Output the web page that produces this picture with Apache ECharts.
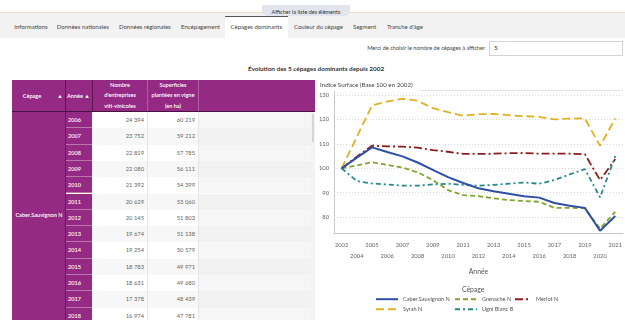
<!DOCTYPE html>
<html><head><meta charset="utf-8">
<script src="https://cdn.jsdelivr.net/npm/echarts/dist/echarts.min.js"></script>
<style>
body{margin:0;width:625px;height:320px;overflow:hidden;background:#fff;font-family:Lato,"Open Sans",sans-serif;position:relative;color:#444}
.a{position:absolute;white-space:nowrap}
.tab{position:absolute;top:22px;font-size:6px;color:#444;transform:translateX(-50%);line-height:10px}
.hd{position:absolute;color:#fff;font-size:5.6px;line-height:10.3px;text-align:center;font-weight:600}
.num{position:absolute;font-size:5.8px;color:#666;text-align:right;line-height:16px}
.yr{position:absolute;font-size:5.6px;color:#fff;line-height:15px;font-weight:600}
#chart{position:absolute;left:0;top:0;width:625px;height:320px}
</style></head>
<body>
<div class="a" style="left:0;top:12px;width:625px;height:25px;background:#f2f2f2;border-top:1px solid #f3dcc2"></div>
<div class="a" style="left:262px;top:5px;width:88px;height:11px;background:#e2e5ee;border-radius:0 0 6px 6px;font-size:5.5px;color:#333;text-align:center;line-height:14px;overflow:hidden">Afficher la liste des éléments</div>
<div class="a" style="left:225px;top:16px;width:63px;height:21px;background:#fff;border-top:1px solid #555"></div>
<div id="tabs"></div>
<div class="a" style="right:140px;top:44px;font-size:5.6px;color:#444">Merci de choisir le nombre de cépages à afficher</div>
<div class="a" style="left:489px;top:41px;width:132px;height:13px;border:1px solid #d4d4d4;background:#fff"></div>
<div class="a" style="left:494px;top:44px;font-size:6.5px;color:#333">5</div>
<div class="a" style="left:0;width:632px;top:65px;font-size:6.4px;font-weight:700;color:#333;text-align:center">Évolution des 5 cépages dominants depuis 2002</div>
<div id="table" class="a" style="left:12px;top:80px;width:303px;height:240px;overflow:hidden"></div>
<div id="chart"></div>
<script>
// ---- data ----
const tabLabels = ['Informations','Données nationales','Données régionales','Encépagement','Cépages dominants','Couleur du cépage','Segment',"Tranche d'âge"];
const tableCepage = 'Caber.Sauvignon N';
const tableYears = [2006,2007,2008,2009,2010,2011,2012,2013,2014,2015,2016,2017,2018];
const entreprises = [24394,23752,22819,22080,21392,20629,20145,19674,19254,18783,18631,17378,16974];
const superficies = [60219,59212,57785,56111,54399,53060,51803,51138,50579,49971,49680,48439,47781];

const years = ['2002','2004','2005','2006','2007','2008','2009','2010','2011','2012','2013','2014','2015','2016','2017','2018','2019','2020','2021'];
const cabernet = [100,104.4,108.6,106.7,104.9,102.4,99.4,96.4,94.0,91.8,90.6,89.6,88.6,88.0,85.8,84.7,83.8,74.4,80.5];
const grenache = [100,101.2,102.5,101.4,100.3,98.4,95.2,91.1,89.0,88.6,87.7,87.0,86.6,86.3,83.8,83.8,83.6,75.3,82.2];
const merlot   = [100,104.8,109.3,109.0,108.9,108.5,107.5,106.8,105.9,105.9,106.0,106.2,106.3,106.0,106.0,106.0,105.8,95.2,103.8];
const syrah    = [100,112.9,125.8,127.4,128.5,127.7,124.7,123.0,121.6,122.2,122.3,121.8,121.4,121.1,120.1,120.4,120.5,109.2,120.5];
const ugni     = [100,94.8,93.8,93.4,92.9,92.9,93.4,93.7,93.2,92.9,93.2,93.7,94.2,93.7,95.2,97.5,99.7,88.1,105.0];
const seriesNames = ['Caber.Sauvignon N','Grenache N','Merlot N','Syrah N','Ugni Blanc B'];

// ---- tabs ----
const tabCenters = [31,82.8,144.8,200.5,256.3,318.5,364.5,405];
document.getElementById('tabs').innerHTML = tabLabels.map((t,i)=>`<div class="tab" style="left:${tabCenters[i]}px">${t}</div>`).join('');

// ---- table ----
const P = '#952a84';
const fmt = n => String(n).replace(/\B(?=(\d{3})+(?!\d))/g,'\u202f');
let h = '';
h += `<div class="a" style="left:0;top:0;width:303px;height:32px;background:${P}"></div>`;
h += `<div class="a" style="left:53px;top:0;width:1px;height:32px;background:#5e1552"></div>`;
h += `<div class="a" style="left:80px;top:0;width:1px;height:32px;background:#5e1552"></div>`;
h += `<div class="a" style="left:135px;top:0;width:1px;height:32px;background:#b05fa3"></div>`;
h += `<div class="a" style="left:186px;top:0;width:1px;height:32px;background:#b05fa3"></div>`;
h += `<div class="a" style="left:0;top:31px;width:303px;height:1px;background:#4a1040"></div>`;
h += `<div class="hd" style="left:0;top:11px;width:40px">Cépage</div><div class="hd" style="left:44px;top:11px;width:8px">▲</div>`;
h += `<div class="hd" style="left:55px;top:11px;width:15px">Année</div><div class="hd" style="left:71px;top:11px;width:8px">▲</div>`;
h += `<div class="hd" style="left:81px;top:0;width:54px">Nombre<br>d'entreprises<br>viti-vinicoles</div>`;
h += `<div class="hd" style="left:136px;top:0;width:50px">Superficies<br>plantées en vigne<br>(en ha)</div>`;
const rh = 16.3, t0 = 32;
h += `<div class="a" style="left:0;top:${t0}px;width:53px;height:240px;background:${P}"></div>`;
h += `<div class="a" style="left:53px;top:${t0}px;width:1px;height:240px;background:#6a1a5e"></div>`;
tableYears.forEach((y,i)=>{
  const top = t0 + i*rh;
  const bg = i%2 ? '#f7f7f7' : '#ffffff';
  h += `<div class="a" style="left:54px;top:${top}px;width:26px;height:${rh}px;background:${P};border-bottom:1px solid #b877ad;box-sizing:border-box"></div>`;
  h += `<div class="yr" style="left:56px;top:${top}px">${y}</div>`;
  h += `<div class="a" style="left:80px;top:${top}px;width:106px;height:${rh}px;background:${bg}"></div>`;
  h += `<div class="a" style="left:186px;top:${top}px;width:113px;height:${rh}px;background:${i%2?'#f1f1f1':'#f6f6f6'}"></div>`;
  h += `<div class="num" style="left:80px;top:${top}px;width:52px">${fmt(entreprises[i])}</div>`;
  h += `<div class="num" style="left:136px;top:${top}px;width:47px">${fmt(superficies[i])}</div>`;
});
h += `<div class="a" style="left:135px;top:${t0}px;width:1px;height:240px;background:#e6e6e6"></div>`;
h += `<div class="a" style="left:186px;top:${t0}px;width:1px;height:240px;background:#e6e6e6"></div>`;
h += `<div class="a" style="left:299px;top:${t0}px;width:4px;height:240px;background:#f3f3f3"></div>`;
h += `<div class="a" style="left:300px;top:${t0+2}px;width:2px;height:28px;background:#d6d6d6"></div>`;
h += `<div class="a" style="left:2px;top:${t0+99}px;width:50px;font-size:5.6px;color:#fff;text-align:center;font-weight:600">${tableCepage}</div>`;
document.getElementById('table').innerHTML = h;

// ---- chart ----
const colors = ['#2f4fa6','#7fa52a','#8c1c1c','#e2b123','#23898c'];
const types = ['solid',[5,3],[8,3,2,3],[8,4],[5,3,2,3]];
const datas = [cabernet,grenache,merlot,syrah,ugni];
const chart = echarts.init(document.getElementById('chart'), null, {renderer:'canvas'});
const legendPos = [[375,296,22],[454,296,22],[514,296,16],[375,306,22],[454,306,22]];
chart.setOption({
  animation:false,
  grid:{left:334,right:2,top:91.5,bottom:87,containLabel:false},
  xAxis:{type:'category',data:years,boundaryGap:true,
    axisTick:{show:false},axisLine:{lineStyle:{color:'#c8c8c8'}},
    axisLabel:{interval:0,fontSize:5.8,color:'#666',margin:6,lineHeight:11.7,fontFamily:'Lato',
      formatter:(v,i)=> i%2 ? '\n'+v : v},
    name:'Année',nameLocation:'middle',nameGap:35,nameTextStyle:{fontSize:6.8,color:'#555',fontFamily:'Lato'}},
  yAxis:{type:'value',min:73.5,max:131.5,splitNumber:5,
    axisLine:{show:true,lineStyle:{color:'#c8c8c8'}},axisTick:{show:false},
    axisLabel:{fontSize:5.8,color:'#666',margin:5,fontFamily:'Lato',showMinLabel:false,showMaxLabel:false,
      formatter:v=> (Math.abs(v%10)<1e-6 ? String(v) : '')},
    splitLine:{lineStyle:{color:'#d9d9d9',type:[1,2]},showMinLine:false,showMaxLine:false}},
  legend: seriesNames.map((n,i)=>({data:[n],left:legendPos[i][0],top:legendPos[i][1],padding:0,
    itemWidth:legendPos[i][2],itemHeight:8,itemStyle:{opacity:0,borderWidth:0},
    textStyle:{fontSize:5.6,color:'#555',fontFamily:'Lato'}})),
  graphic:[
    {type:'text',left:320,top:82,style:{text:'Indice Surface (Base 100 en 2002)',fontSize:6.2,fill:'#444',fontFamily:'Lato'}},
    {type:'text',left:462,top:286,style:{text:'Cépage',fontSize:6.8,fill:'#555',fontFamily:'Lato'}},
    {type:'line',shape:{x1:420,y1:90.5,x2:623,y2:90.5},style:{stroke:'#e4e4e4',lineWidth:1}}
  ],
  series: seriesNames.map((n,i)=>({name:n,type:'line',data:datas[i],symbol:'none',
    color:colors[i],lineStyle:{width:i===0?2:1.8,type:types[i],color:colors[i]},z:i===0?5:3}))
});
</script>
</body></html>
